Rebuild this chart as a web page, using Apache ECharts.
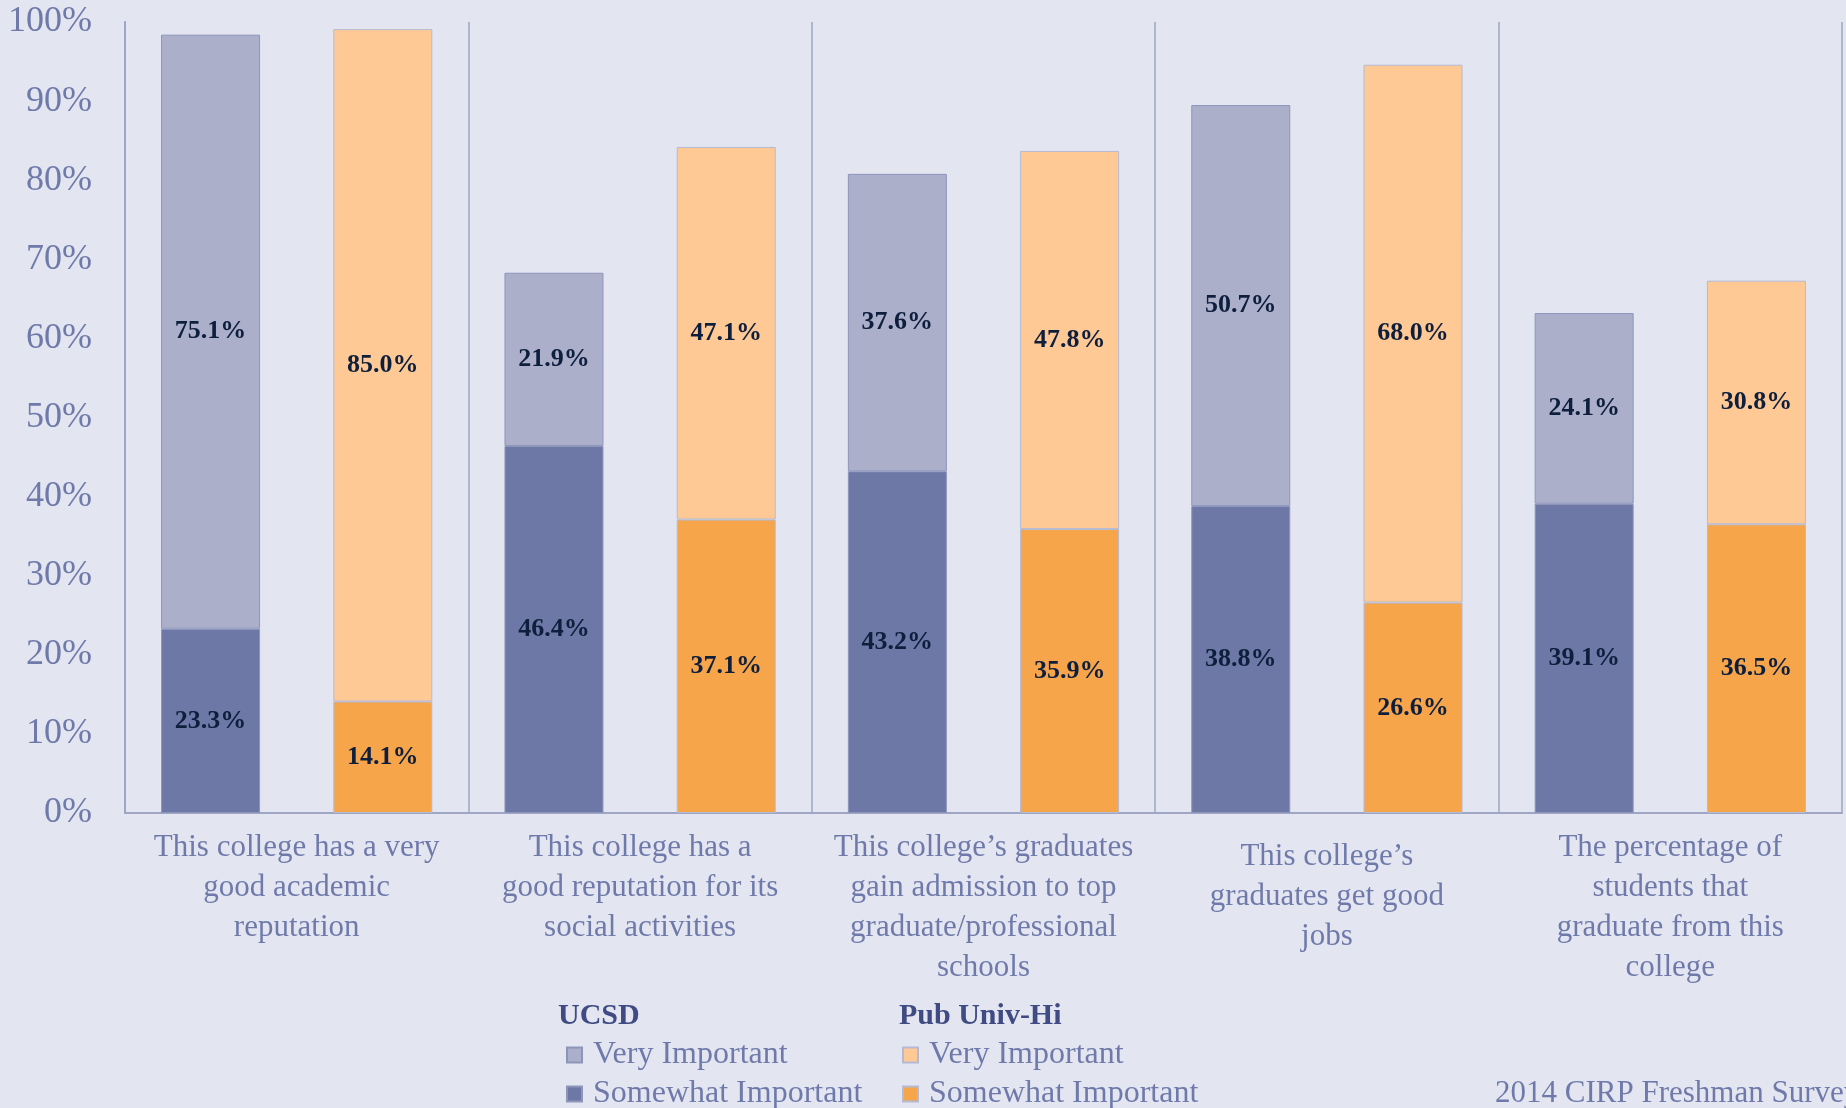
<!DOCTYPE html>
<html>
<head>
<meta charset="utf-8">
<script src="https://cdn.jsdelivr.net/npm/echarts@6/dist/echarts.min.js"></script>
<style>
  html, body { margin: 0; padding: 0; background: #e3e6f0; }
  #chart { width: 1846px; height: 1108px; }
</style>
</head>
<body>
<div id="chart"></div>
<script>
const categories = [
  "This college has a very\ngood academic\nreputation",
  "This college has a\ngood reputation for its\nsocial activities",
  "This college\u2019s graduates\ngain admission to top\ngraduate/professional\nschools",
  "This college\u2019s\ngraduates get good\njobs",
  "The percentage of\nstudents that\ngraduate from this\ncollege"
];
const ucsdSomewhat = [23.3, 46.4, 43.2, 38.8, 39.1];
const ucsdVery = [75.1, 21.9, 37.6, 50.7, 24.1];
const pubSomewhat = [14.1, 37.1, 35.9, 26.6, 36.5];
const pubVery = [85.0, 47.1, 47.8, 68.0, 30.8];

const FONT = "'Liberation Serif', 'DejaVu Serif', serif";
const AXIS_COLOR = "#9fa5c5";
const TEXT_COLOR = "#6f7aab";

const chart = echarts.init(document.getElementById("chart"));

// labels sit in the middle of every segment
const segLabel = {
  show: true,
  position: "inside",
  formatter: (p) => p.value.toFixed(1) + "%",
  color: "#0e1f3d",
  fontFamily: FONT,
  fontWeight: "bold",
  fontSize: 26
};

function barSeries(name, stack, data, color, border) {
  return {
    name: name,
    type: "bar",
    stack: stack,
    data: data,
    barWidth: 99,
    barGap: "74%",
    itemStyle: { color: color, borderColor: border, borderWidth: 1 },
    label: segLabel,
    emphasis: { disabled: true }
  };
}

function legendBox(names, prefix, left) {
  return {
    data: names,
    orient: "vertical",
    left: left, top: 1039,
    width: 320, height: 120,
    padding: 0,
    icon: "rect", itemWidth: 15, itemHeight: 15, itemGap: 7,
    selectedMode: false,
    formatter: (n) => n.replace(prefix, ""),
    textStyle: { fontFamily: FONT, fontSize: 32, color: TEXT_COLOR, padding: [0, 0, 0, 6] }
  };
}

chart.setOption({
  backgroundColor: "#e3e6f0",
  animation: false,
  textStyle: { fontFamily: FONT },
  title: [
    { text: "UCSD", left: 553, top: 996,
      textStyle: { fontFamily: FONT, fontSize: 30, fontWeight: "bold", color: "#3f4b82" } },
    { text: "Pub Univ-Hi", left: 894, top: 996,
      textStyle: { fontFamily: FONT, fontSize: 30, fontWeight: "bold", color: "#3f4b82" } },
    { text: "2014 CIRP Freshman Survey", left: 1490, top: 1073,
      textStyle: { fontFamily: FONT, fontSize: 31, fontWeight: "normal", color: TEXT_COLOR } }
  ],
  legend: [
    legendBox(["UCSD Very Important", "UCSD Somewhat Important"], "UCSD ", 566),
    legendBox(["Pub Very Important", "Pub Somewhat Important"], "Pub ", 902)
  ],
  grid: { left: 125, right: 4, top: 22, bottom: 295, containLabel: false },
  xAxis: {
    type: "category",
    data: categories,
    axisLine: { lineStyle: { color: AXIS_COLOR, width: 2 } },
    axisTick: { show: false },
    splitLine: { show: true, lineStyle: { color: AXIS_COLOR, width: 1.5 } },
    axisLabel: {
      interval: 0,
      margin: 15,
      color: TEXT_COLOR,
      fontFamily: FONT,
      fontSize: 31,
      lineHeight: 40,
      align: "center",
      // the fourth label sits a little lower in the original
      formatter: (v, i) => (i === 3 ? "{s| }\n" + v : v),
      rich: { s: { fontSize: 8, lineHeight: 9 } }
    }
  },
  yAxis: {
    type: "value",
    min: 0,
    max: 100,
    interval: 10,
    axisLine: { show: true, lineStyle: { color: AXIS_COLOR, width: 2 } },
    axisTick: { show: false },
    splitLine: { show: false },
    axisLabel: {
      formatter: "{value}%",
      margin: 33,
      color: TEXT_COLOR,
      fontFamily: FONT,
      fontSize: 36
    }
  },
  series: [
    barSeries("UCSD Somewhat Important", "ucsd", ucsdSomewhat, "#6e78a6", "#8d95bb"),
    barSeries("UCSD Very Important", "ucsd", ucsdVery, "#abafca", "#8d95bb"),
    barSeries("Pub Somewhat Important", "pub", pubSomewhat, "#f7a54a", "#b5bad3"),
    barSeries("Pub Very Important", "pub", pubVery, "#fec995", "#b5bad3")
  ]
});
</script>
</body>
</html>
